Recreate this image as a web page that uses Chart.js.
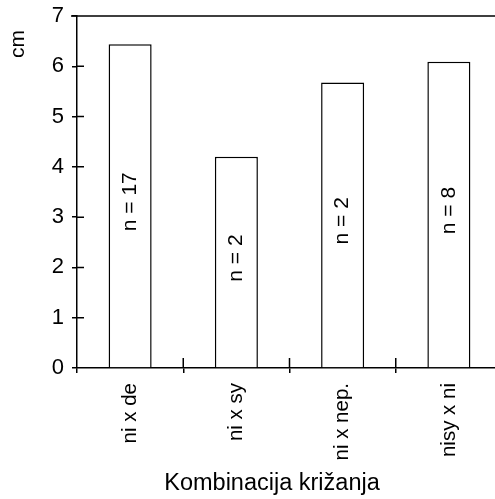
<!DOCTYPE html>
<html>
<head>
<meta charset="utf-8">
<script src="https://cdn.jsdelivr.net/npm/chart.js@4"></script>
<style>
  html, body { margin: 0; padding: 0; background: #fff; overflow: hidden; }
  #wrap { width: 502px; height: 499px; }
</style>
</head>
<body>
<div id="wrap"><canvas id="chart" width="502" height="499"></canvas></div>
<script>
// data
const categories = ['ni x de', 'ni x sy', 'ni x nep.', 'nisy x ni'];
const lengths = [6.44, 4.2, 5.68, 6.09];
const sampleSizes = ['n = 17', 'n = 2', 'n = 2', 'n = 8'];
const yTicks = [0, 1, 2, 3, 4, 5, 6, 7];

const FONT = '"Liberation Sans", Arial, Helvetica, sans-serif';

// inner halves of the crossing ticks, top frame line, bar labels, axis titles
const extras = {
  id: 'extras',
  afterDatasetsDraw(chart){
    const ctx = chart.ctx;
    const area = chart.chartArea;
    const x = chart.scales.x, y = chart.scales.y;
    ctx.save();
    ctx.strokeStyle = '#000';
    ctx.lineWidth = 1.5;
    ctx.beginPath();
    // top line at y = 7
    const yTop = y.getPixelForValue(7);
    ctx.moveTo(area.left - 6, yTop); ctx.lineTo(area.right, yTop);
    // y ticks cross into the plot
    yTicks.forEach(v => {
      if (v === 0 || v === 7) return;
      const py = y.getPixelForValue(v);
      ctx.moveTo(area.left, py); ctx.lineTo(area.left + 7, py);
    });
    // x ticks between categories cross upward
    for (let i = 1; i < categories.length; i++){
      const px = (x.getPixelForTick(i - 1) + x.getPixelForTick(i)) / 2;
      ctx.moveTo(px, area.bottom); ctx.lineTo(px, area.bottom - 10);
    }
    ctx.stroke();

    // n = ... labels inside bars
    ctx.fillStyle = '#000';
    ctx.font = '21px ' + FONT;
    ctx.textAlign = 'center';
    ctx.textBaseline = 'middle';
    chart.getDatasetMeta(0).data.forEach((bar, i) => {
      const cy = (bar.y + bar.base) / 2 - 4;
      ctx.save();
      ctx.translate(bar.x, cy);
      ctx.rotate(-Math.PI / 2);
      ctx.fillText(sampleSizes[i], 0, 0);
      ctx.restore();
    });

    // axis titles
    ctx.font = '23.5px ' + FONT;
    ctx.fillText('Kombinacija križanja', 272, 484);
    ctx.save();
    ctx.translate(18, 44);
    ctx.rotate(-Math.PI / 2);
    ctx.font = '21px ' + FONT;
    ctx.fillText('cm', 0, 0);
    ctx.restore();
    ctx.restore();
  }
};

new Chart(document.getElementById('chart'), {
  type: 'bar',
  data: {
    labels: categories,
    datasets: [{
      data: lengths,
      backgroundColor: '#fff',
      borderColor: '#000',
      borderWidth: 1.5,
      barPercentage: 0.405,
      categoryPercentage: 1
    }]
  },
  options: {
    responsive: false,
    animation: false,
    devicePixelRatio: 1,
    layout: { padding: { top: 16, right: 0, bottom: 0, left: 0 } },
    plugins: { legend: { display: false }, tooltip: { enabled: false } },
    scales: {
      x: {
        afterFit: s => { s.height = 131; },
        grid: { display: true, drawOnChartArea: false, offset: true, tickLength: 5, color: '#000', lineWidth: 1.5 },
        border: { display: true, color: '#000', width: 1.5 },
        ticks: { color: '#000', font: { family: FONT, size: 20.5 }, minRotation: 90, maxRotation: 90, padding: 10 }
      },
      y: {
        min: 0, max: 7,
        afterFit: s => { s.width = 77; },
        afterBuildTicks: s => { s.ticks = yTicks.map(v => ({ value: v })); },
        grid: { display: true, drawOnChartArea: false, tickLength: 5, color: '#000', lineWidth: 1.5 },
        border: { display: true, color: '#000', width: 1.5 },
        ticks: { color: '#000', font: { family: FONT, size: 22, lineHeight: 0.6 }, padding: 8 }
      }
    }
  },
  plugins: [extras]
});
</script>
</body>
</html>
